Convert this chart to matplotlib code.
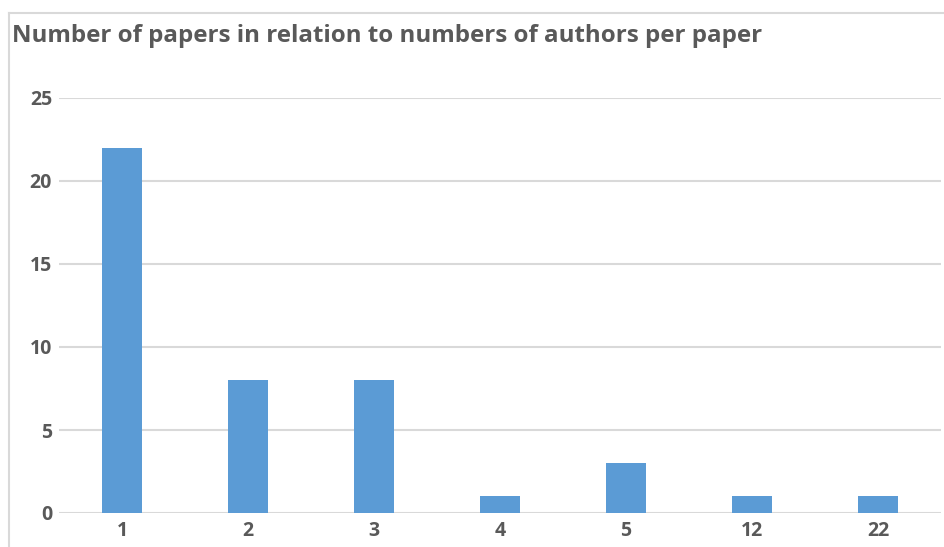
import matplotlib.pyplot as plt
from matplotlib.lines import Line2D

# data
authors = ['1', '2', '3', '4', '5', '12', '22']
papers = [22, 8, 8, 1, 3, 1, 1]
yticks = [0, 5, 10, 15, 20, 25]

W, H = 945, 547
fig = plt.figure(figsize=(W / 100, H / 100), dpi=100)
fig.patch.set_facecolor('white')

# chart frame (only left and top edges are visible in the crop)
fig.add_artist(Line2D([9.5 / W, 9.5 / W], [0, 1 - 12.5 / H], transform=fig.transFigure,
                      color='#d9d9d9', lw=1.5))
fig.add_artist(Line2D([9.5 / W, 1], [1 - 12.5 / H, 1 - 12.5 / H], transform=fig.transFigure,
                      color='#d9d9d9', lw=1.5))

ax = fig.add_axes([59 / W, 1 - 513 / H, (941 - 59) / W, (513 - 98) / H])
x = range(len(authors))
ax.bar(x, papers, width=0.317, color='#5b9bd5', zorder=3)

ax.set_xlim(-0.5, len(authors) - 0.5)
ax.set_ylim(0, 25)
ax.set_yticks(yticks)
ax.set_xticks(list(x))
ax.set_xticklabels(authors)
ax.yaxis.grid(True, color='#d9d9d9', lw=1.5, zorder=0)
for s in ax.spines.values():
    s.set_visible(False)
ax.tick_params(length=0, colors='#595959', labelsize=14)
ax.tick_params(axis='y', pad=5)
ax.tick_params(axis='x', pad=6)
for lab in ax.get_xticklabels() + ax.get_yticklabels():
    lab.set_fontweight('bold')
    lab.set_family('Open Sans')

fig.text(12 / W, 1 - 36.5 / H, 'Number of papers in relation to numbers of authors per paper',
         fontsize=17.4, fontweight='bold', color='#595959', family='Open Sans',
         ha='left', va='center')

fig.savefig('out.png', dpi=100)
